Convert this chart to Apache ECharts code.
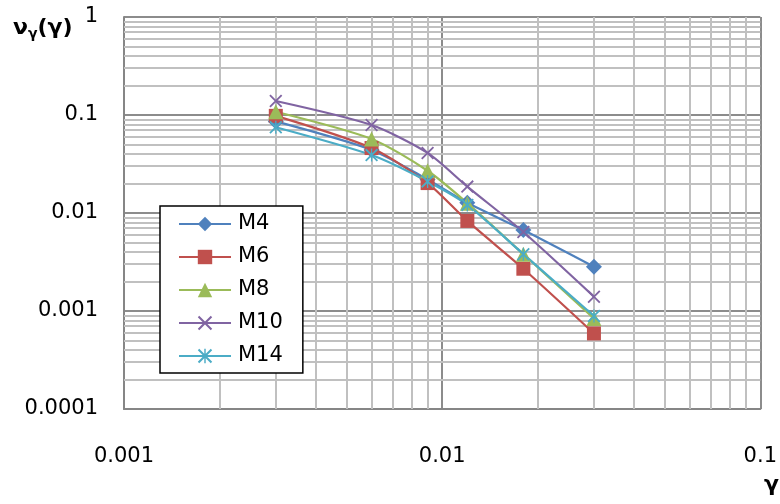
<!DOCTYPE html>
<html>
<head>
<meta charset="utf-8">
<script src="https://cdn.jsdelivr.net/npm/echarts@6/dist/echarts.min.js"></script>
<style>
  html, body { margin: 0; padding: 0; background: #fff; }
  #chart { width: 780px; height: 504px; }
</style>
</head>
<body>
<div id="chart"></div>
<script>
// ===== datos =====
const GAMMA = [0.003, 0.006, 0.009, 0.012, 0.018, 0.03];
const M4  = [0.086, 0.044, 0.022, 0.0127, 0.0067, 0.00283];
const M6  = [0.098, 0.046, 0.0202, 0.0083, 0.0027, 0.00059];
const M8  = [0.108, 0.057, 0.027, 0.0126, 0.0038, 0.00084];
const M10 = [0.139, 0.079, 0.041, 0.0186, 0.0064, 0.0014];
const M14 = [0.075, 0.039, 0.021, 0.0121, 0.0038, 0.00089];
const X_TICKS = ['0.001', '0.01', '0.1'];
const Y_TICKS = ['0.0001', '0.001', '0.01', '0.1', '1'];

// ---- estilo ----
const FONT = 'DejaVu Sans';
const FS = 21;
const C = { M4: '#4f81bd', M6: '#c0504d', M8: '#9bbb59', M10: '#8064a2', M14: '#4bacc6' };
const X_PATH = 'path://M0,1L1,0L10,9L9,10Z M9,0L10,1L1,10L0,9Z';
const STAR_PATH = 'path://M0,1L1,0L10,9L9,10Z M9,0L10,1L1,10L0,9Z M4.5,0L5.5,0L5.5,10L4.5,10Z';
const XMIN = 0.001, XMAX = 0.1, YMIN = 0.0001, YMAX = 1;

// rejilla menor 2..9 de cada década (en valores de datos)
function minors(lo, hi) {
  const out = [];
  for (let d = lo; d < hi * 0.999; d *= 10) for (let k = 2; k <= 9; k++) out.push(+(d * k).toPrecision(2));
  return out;
}
const tickLabel = (ticks) => v => ticks.find(t => Math.abs(Math.log10(+t) - Math.log10(v)) < 1e-6) || '';

function serie(name, vals, symbol, size) {
  return {
    name, type: 'line', smooth: 0.25, z: 5,
    data: GAMMA.map((g, i) => [g, vals[i]]),
    symbol, symbolSize: size,
    lineStyle: { color: C[name], width: 2.2 },
    itemStyle: { color: C[name] },
  };
}

const gridLines = [
  ...minors(XMIN, XMAX).map(v => [{ coord: [v, YMIN] }, { coord: [v, YMAX] }]),
  ...minors(YMIN, YMAX).map(v => [{ coord: [XMIN, v] }, { coord: [XMAX, v] }]),
];

const chart = echarts.init(document.getElementById('chart'), null, { renderer: 'canvas' });
chart.setOption({
  animation: false,
  title: {
    text: '{a|ν}{s|γ}{a|(γ)}', left: 8, top: 10,
    textStyle: { rich: {
      a: { fontFamily: FONT, fontWeight: 'bold', fontSize: 22, color: '#000' },
      s: { fontFamily: FONT, fontWeight: 'bold', fontSize: 14, color: '#000', verticalAlign: 'bottom', padding: [12, 0, 0, 0] },
    } },
  },
  graphic: [{
    type: 'text', left: 764, top: 474,
    style: { text: 'γ', font: `bold 22px "${FONT}"`, fill: '#000' },
  }],
  grid: { left: 124, right: 17, top: 17, bottom: 95, containLabel: false },
  legend: {
    orient: 'vertical', left: 160, top: 206, z: 20,
    itemWidth: 52, itemHeight: 18, itemGap: 11,
    padding: [7, 20, 6, 18],
    borderColor: '#000', borderWidth: 1.5, backgroundColor: '#fff',
    textStyle: { fontFamily: FONT, fontSize: FS, lineHeight: 22, color: '#000', padding: [0, 0, 0, 2] },
    data: ['M4', 'M6', 'M8', 'M10', 'M14'],
  },
  xAxis: {
    type: 'log', logBase: 10, min: XMIN, max: XMAX,
    axisLine: { show: true, onZero: false, lineStyle: { color: '#868686', width: 2 } },
    axisTick: { show: false },
    axisLabel: { fontFamily: FONT, fontSize: FS, color: '#000', margin: 37, formatter: tickLabel(X_TICKS) },
    splitLine: { show: true, lineStyle: { color: '#8c8c8c', width: 2 } },
  },
  yAxis: {
    type: 'log', logBase: 10, min: YMIN, max: YMAX,
    axisLine: { show: true, onZero: false, lineStyle: { color: '#868686', width: 2 } },
    axisTick: { show: false },
    axisLabel: { fontFamily: FONT, fontSize: FS, color: '#000', margin: 26, formatter: tickLabel(Y_TICKS) },
    splitLine: { show: true, lineStyle: { color: '#8c8c8c', width: 2 } },
  },
  series: [
    {
      name: 'grid', type: 'line', data: [], z: 1, silent: true,
      markLine: {
        z: 1, silent: true, symbol: ['none', 'none'], label: { show: false }, animation: false,
        lineStyle: { color: '#c0c0c0', width: 2, type: 'solid' },
        emphasis: { disabled: true },
        data: gridLines,
      },
    },
    serie('M4', M4, 'diamond', 16),
    serie('M6', M6, 'rect', 14),
    serie('M8', M8, 'triangle', 15),
    serie('M10', M10, X_PATH, 13),
    serie('M14', M14, STAR_PATH, 13),
  ],
});
</script>
</body>
</html>
